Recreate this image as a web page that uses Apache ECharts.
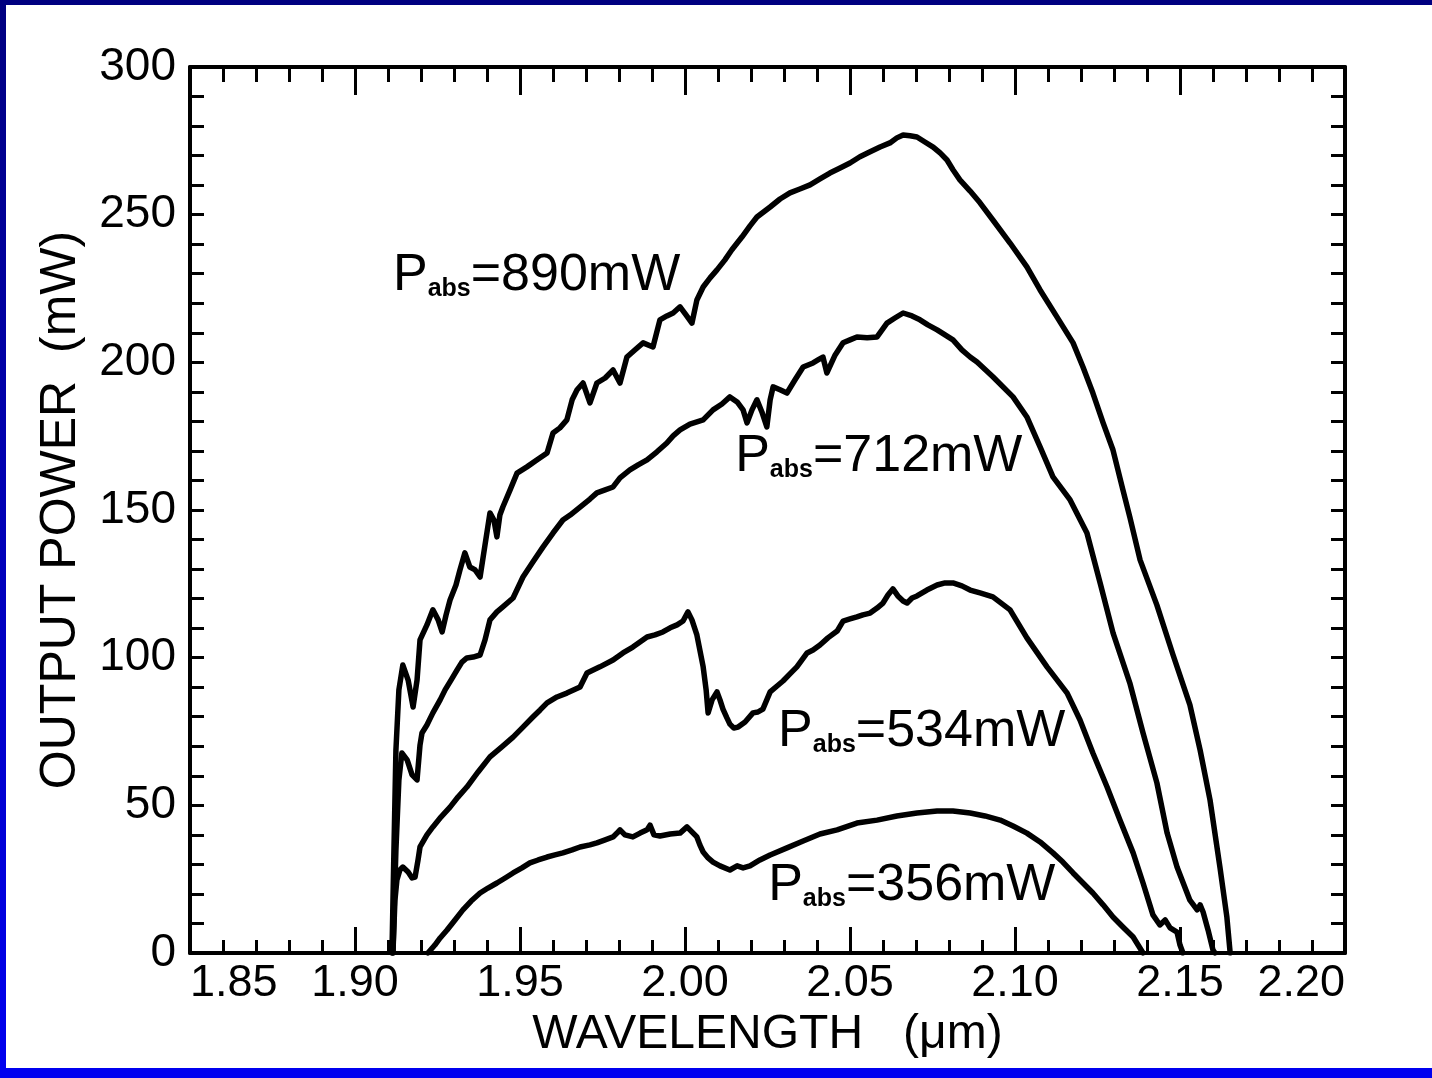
<!DOCTYPE html>
<html>
<head>
<meta charset="utf-8">
<script src="https://cdn.jsdelivr.net/npm/echarts@6/dist/echarts.min.js"></script>
<style>
  html, body { margin: 0; padding: 0; overflow: hidden; }
  #frame {
    position: relative;
    width: 1432px;
    height: 1078px;
    background: linear-gradient(#000080, #0000f0);
  }
  #paper {
    position: absolute;
    left: 6px; top: 5px; right: 0; bottom: 10px;
    background: #ffffff;
  }
  #chart {
    position: absolute;
    left: 0; top: 0;
    width: 1432px; height: 1078px;
  }
</style>
</head>
<body>
<div id="frame">
  <div id="paper"></div>
  <div id="chart"></div>
</div>
<script>
// wavelength (um), output power (mW)
var curve890 = [[1.9112,0],[1.9118,34.9],[1.9124,68.7],[1.9133,89.1],[1.9145,97.5],[1.9161,92.4],[1.9176,83.3],[1.9188,92.4],[1.9197,106.0],[1.9218,111.1],[1.9236,116.2],[1.9252,112.8],[1.9264,108.7],[1.9276,114.5],[1.9288,119.5],[1.9306,124.6],[1.9318,129.7],[1.9333,135.5],[1.9348,130.7],[1.9364,129.7],[1.9379,127.3],[1.9394,138.2],[1.9409,149.0],[1.9421,146.6],[1.9430,140.9],[1.9439,148.3],[1.9448,151.0],[1.9470,156.8],[1.9491,162.5],[1.9521,164.6],[1.9552,167.0],[1.9582,169.3],[1.9600,176.1],[1.9621,177.8],[1.9642,180.5],[1.9658,187.3],[1.9673,190.7],[1.9691,193.0],[1.9712,186.3],[1.9733,193.0],[1.9758,194.7],[1.9782,197.4],[1.9803,193.0],[1.9824,201.8],[1.9848,204.2],[1.9873,206.6],[1.9903,205.2],[1.9924,214.4],[1.9945,215.7],[1.9964,216.7],[1.9985,218.8],[2.0003,216.1],[2.0021,213.3],[2.0036,221.1],[2.0055,225.5],[2.0076,228.6],[2.0097,231.3],[2.0121,234.7],[2.0142,238.1],[2.0173,242.5],[2.0197,246.2],[2.0218,249.2],[2.0258,252.6],[2.0288,255.3],[2.0318,257.4],[2.0348,258.7],[2.0379,260.1],[2.0409,262.1],[2.0439,264.1],[2.0470,265.8],[2.0500,267.5],[2.0530,269.6],[2.0561,271.3],[2.0591,272.9],[2.0621,274.3],[2.0642,276.0],[2.0661,277.0],[2.0682,276.7],[2.0703,276.3],[2.0727,274.6],[2.0752,272.9],[2.0773,270.9],[2.0794,268.5],[2.0812,265.2],[2.0833,261.8],[2.0864,258.0],[2.0894,254.0],[2.0933,248.2],[2.0985,240.4],[2.1036,232.3],[2.1076,224.5],[2.1127,215.4],[2.1176,206.6],[2.1206,198.4],[2.1236,189.6],[2.1267,179.5],[2.1297,170.3],[2.1327,156.8],[2.1348,147.6],[2.1379,133.1],[2.1430,117.8],[2.1479,100.9],[2.1530,84.0],[2.1561,68.7],[2.1591,51.8],[2.1621,29.1],[2.1642,12.2],[2.1652,0]];

var curve712 = [[1.9115,0],[1.9124,34.9],[1.9133,58.6],[1.9142,67.7],[1.9158,65.4],[1.9173,60.3],[1.9188,58.6],[1.9197,70.4],[1.9203,74.5],[1.9218,77.2],[1.9236,81.3],[1.9258,85.7],[1.9273,89.1],[1.9291,92.4],[1.9309,95.8],[1.9324,98.5],[1.9339,99.9],[1.9358,100.2],[1.9379,100.9],[1.9394,106.0],[1.9409,112.8],[1.9430,115.5],[1.9448,117.2],[1.9479,120.2],[1.9509,127.3],[1.9539,132.4],[1.9570,137.5],[1.9600,142.2],[1.9630,146.6],[1.9652,148.3],[1.9682,151.0],[1.9712,153.7],[1.9733,155.8],[1.9758,156.8],[1.9782,157.8],[1.9803,160.9],[1.9833,163.6],[1.9858,165.3],[1.9885,167.0],[1.9915,169.7],[1.9945,172.7],[1.9964,175.1],[1.9985,177.1],[2.0015,179.1],[2.0055,180.5],[2.0085,183.9],[2.0112,185.9],[2.0136,188.3],[2.0158,186.6],[2.0176,183.9],[2.0188,179.5],[2.0203,183.9],[2.0218,187.3],[2.0233,183.2],[2.0248,178.1],[2.0258,187.3],[2.0267,191.7],[2.0288,190.7],[2.0309,189.6],[2.0333,194.0],[2.0358,198.4],[2.0388,199.8],[2.0403,200.8],[2.0418,201.8],[2.0430,196.4],[2.0455,202.5],[2.0479,206.6],[2.0500,207.6],[2.0521,208.6],[2.0552,208.3],[2.0582,208.6],[2.0612,213.3],[2.0636,215.0],[2.0661,216.7],[2.0688,215.7],[2.0712,214.4],[2.0736,212.7],[2.0764,211.0],[2.0788,209.3],[2.0812,207.6],[2.0839,204.2],[2.0864,201.8],[2.0885,200.1],[2.0933,195.1],[2.0994,188.3],[2.1036,181.5],[2.1076,171.4],[2.1115,161.2],[2.1167,153.4],[2.1218,142.2],[2.1258,125.3],[2.1297,108.4],[2.1348,91.4],[2.1388,74.5],[2.1430,57.6],[2.1461,40.6],[2.1491,29.1],[2.1530,17.9],[2.1552,14.6],[2.1561,16.3],[2.1570,13.9],[2.1585,7.8],[2.1600,1.0],[2.1606,0]];

var curve534 = [[1.9115,0],[1.9121,17.9],[1.9127,24.7],[1.9136,28.1],[1.9145,29.1],[1.9161,27.4],[1.9173,25.4],[1.9182,25.7],[1.9191,31.5],[1.9197,35.9],[1.9218,40.0],[1.9236,42.7],[1.9261,46.1],[1.9288,49.4],[1.9312,52.8],[1.9339,56.2],[1.9373,61.3],[1.9409,66.4],[1.9445,69.8],[1.9479,73.1],[1.9509,76.5],[1.9539,79.9],[1.9561,82.3],[1.9582,84.7],[1.9612,86.7],[1.9642,88.0],[1.9682,90.1],[1.9703,94.8],[1.9742,96.9],[1.9782,99.2],[1.9812,101.6],[1.9842,103.6],[1.9885,107.0],[1.9909,107.7],[1.9933,108.7],[1.9955,110.1],[1.9976,111.1],[1.9994,112.4],[2.0009,115.5],[2.0021,112.8],[2.0036,107.7],[2.0045,102.6],[2.0055,96.9],[2.0064,89.1],[2.0070,81.3],[2.0082,85.7],[2.0097,88.4],[2.0106,85.7],[2.0115,82.6],[2.0127,79.6],[2.0136,77.5],[2.0148,76.2],[2.0161,76.5],[2.0182,78.2],[2.0206,81.3],[2.0221,81.6],[2.0236,82.6],[2.0258,88.4],[2.0279,90.4],[2.0297,92.1],[2.0318,94.5],[2.0339,96.9],[2.0370,101.6],[2.0388,102.6],[2.0409,104.3],[2.0433,106.7],[2.0461,109.0],[2.0479,112.4],[2.0500,113.1],[2.0521,113.8],[2.0539,114.5],[2.0561,115.1],[2.0582,116.8],[2.0600,118.5],[2.0615,121.2],[2.0630,123.3],[2.0645,120.9],[2.0661,119.2],[2.0673,118.5],[2.0688,120.2],[2.0703,120.9],[2.0733,122.9],[2.0764,124.6],[2.0788,125.3],[2.0812,125.3],[2.0839,124.3],[2.0864,122.9],[2.0894,121.9],[2.0933,120.6],[2.0985,116.2],[2.1036,106.7],[2.1097,96.9],[2.1158,88.0],[2.1197,78.9],[2.1236,67.7],[2.1279,56.2],[2.1318,45.0],[2.1358,33.9],[2.1388,23.7],[2.1418,12.9],[2.1439,9.5],[2.1455,11.2],[2.1470,8.5],[2.1491,7.1],[2.1500,2.7],[2.1509,0]];

var curve356 = [[1.9221,0],[1.9242,2.7],[1.9258,5.1],[1.9279,7.8],[1.9303,11.2],[1.9327,14.6],[1.9352,17.6],[1.9379,20.3],[1.9403,22.0],[1.9430,23.7],[1.9455,25.4],[1.9479,27.1],[1.9506,28.8],[1.9530,30.5],[1.9555,31.5],[1.9582,32.5],[1.9606,33.2],[1.9630,33.9],[1.9658,34.9],[1.9682,35.9],[1.9712,36.6],[1.9733,37.3],[1.9758,38.3],[1.9782,39.3],[1.9794,40.6],[1.9803,41.7],[1.9818,40.0],[1.9842,39.3],[1.9864,40.6],[1.9885,41.7],[1.9894,43.3],[1.9906,40.0],[1.9924,39.6],[1.9955,40.3],[1.9985,40.6],[2.0006,42.7],[2.0021,41.0],[2.0036,39.3],[2.0045,36.6],[2.0055,34.2],[2.0070,32.2],[2.0085,30.8],[2.0106,29.5],[2.0136,28.1],[2.0158,29.5],[2.0176,28.8],[2.0197,29.5],[2.0227,31.5],[2.0258,33.2],[2.0309,35.6],[2.0358,37.9],[2.0409,40.3],[2.0461,41.7],[2.0521,44.0],[2.0582,45.0],[2.0642,46.4],[2.0703,47.4],[2.0764,48.1],[2.0812,48.1],[2.0864,47.4],[2.0909,46.4],[2.0955,45.0],[2.0994,43.0],[2.1036,40.6],[2.1076,37.6],[2.1115,33.9],[2.1145,30.8],[2.1176,27.1],[2.1206,23.7],[2.1236,20.3],[2.1267,16.3],[2.1297,12.2],[2.1327,8.8],[2.1358,5.4],[2.1388,0]];

var absorbed = ['890', '712', '534', '356'];
// where each P_abs label starts (left edge, vertical middle), in data units
var labelAt = [[1.9115, 229.6], [2.0152, 168.3], [2.0282, 75.2], [2.0252, 23.0]];

var FONT = '"Liberation Sans", Arial, Helvetica, sans-serif';

var chart = echarts.init(document.getElementById('chart'), null, {renderer: 'canvas'});

function axisBase(extra) {
    var a = {
        type: 'value',
        axisLine: {show: true, onZero: false, lineStyle: {color: '#000', width: 4}},
        axisTick: {show: true, inside: true, lineStyle: {color: '#000', width: 3}},
        minorTick: {show: true, splitNumber: 5, lineStyle: {color: '#000', width: 3}},
        splitLine: {show: false},
        minorSplitLine: {show: false}
    };
    for (var k in extra) a[k] = extra[k];
    return a;
}

function lineSeries(name, data, idx) {
    return {
        name: name,
        type: 'line',
        data: data,
        showSymbol: false,
        symbol: 'none',
        lineStyle: {color: '#000', width: 5.5, join: 'round', cap: 'round'},
        markPoint: {
            symbol: 'circle',
            symbolSize: 0,
            data: [{coord: labelAt[idx], value: absorbed[idx]}],
            label: {
                show: true,
                position: 'right',
                distance: 0,
                formatter: '{p|P}{s|abs}{p|=' + absorbed[idx] + 'mW}',
                rich: {
                    p: {fontSize: 52, fontFamily: FONT, color: '#000', lineHeight: 54, verticalAlign: 'bottom'},
                    s: {fontSize: 25, fontFamily: FONT, fontWeight: 'bold', color: '#000', lineHeight: 4, verticalAlign: 'bottom'}
                }
            }
        }
    };
}

var option = {
    animation: false,
    backgroundColor: 'transparent',
    textStyle: {fontFamily: FONT, color: '#000'},
    grid: {left: 190, top: 67, width: 1155, height: 886},
    xAxis: [
        axisBase({
            position: 'bottom', min: 1.85, max: 2.2, interval: 0.05,
            name: 'WAVELENGTH   (\u03bcm)', nameLocation: 'middle', nameGap: 41,
            nameTextStyle: {fontSize: 48, color: '#000', fontFamily: FONT},
            axisTick: {show: true, inside: true, length: 26, lineStyle: {color: '#000', width: 3}},
            minorTick: {show: true, splitNumber: 5, length: 13, lineStyle: {color: '#000', width: 3}},
            axisLabel: {
                fontSize: 45, color: '#000', fontFamily: FONT, margin: 8,
                alignMinLabel: 'left', alignMaxLabel: 'right',
                formatter: function (v) { return v.toFixed(2); }
            }
        }),
        axisBase({
            position: 'top', min: 1.85, max: 2.2, interval: 0.05,
            axisTick: {show: true, inside: true, length: 28, lineStyle: {color: '#000', width: 3}},
            minorTick: {show: true, splitNumber: 5, length: 15, lineStyle: {color: '#000', width: 3}},
            axisLabel: {show: false}
        })
    ],
    yAxis: [
        axisBase({
            position: 'left', min: 0, max: 300, interval: 50,
            name: 'OUTPUT POWER  (mW)', nameLocation: 'middle', nameGap: 104,
            nameTextStyle: {fontSize: 50, color: '#000', fontFamily: FONT},
            axisTick: {show: true, inside: true, length: 14, lineStyle: {color: '#000', width: 3}},
            minorTick: {show: true, splitNumber: 5, length: 14, lineStyle: {color: '#000', width: 3}},
            axisLabel: {fontSize: 46, color: '#000', fontFamily: FONT, margin: 14}
        }),
        axisBase({
            position: 'right', min: 0, max: 300, interval: 50,
            axisTick: {show: true, inside: true, length: 14, lineStyle: {color: '#000', width: 3}},
            minorTick: {show: true, splitNumber: 5, length: 14, lineStyle: {color: '#000', width: 3}},
            axisLabel: {show: false}
        })
    ],
    series: [
        lineSeries('890mW', curve890, 0),
        lineSeries('712mW', curve712, 1),
        lineSeries('534mW', curve534, 2),
        lineSeries('356mW', curve356, 3)
    ]
};

chart.setOption(option);
</script>
</body>
</html>
